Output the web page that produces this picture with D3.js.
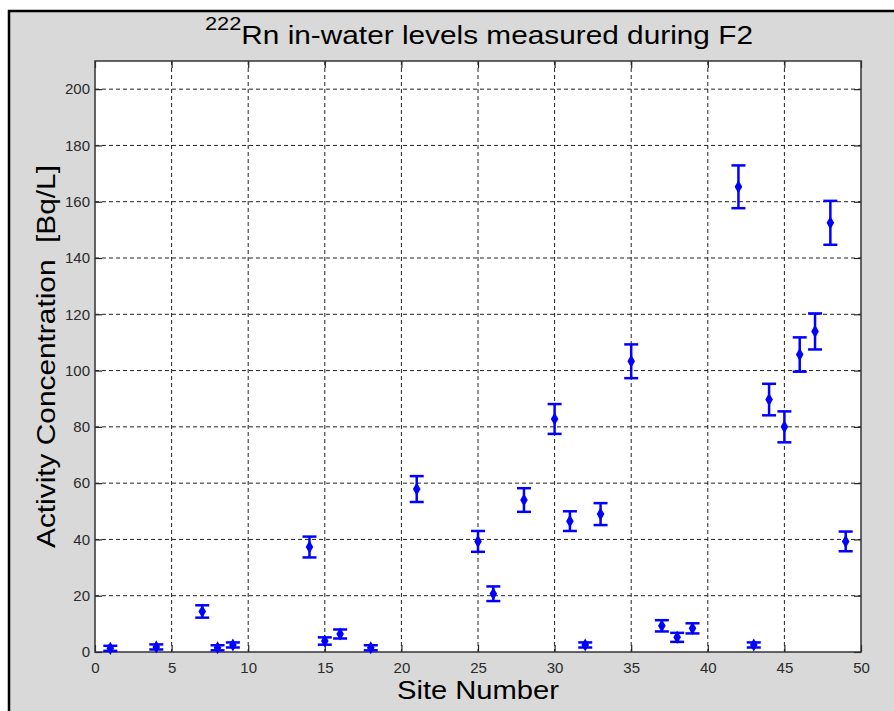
<!DOCTYPE html>
<html>
    <head>
        <title>Rn in-water levels F2</title>
        <meta charset="UTF-8">
        <script type="text/javascript" src="https://cdn.jsdelivr.net/npm/d3@7"></script>
        <style>
            body { margin: 0; background: #fff; }
            text { font-family: "Liberation Sans", Arial, Helvetica, sans-serif; }
        </style>
    </head>
    <body>
        <script type="text/javascript">
            var sites = [1, 4, 7, 8, 9, 14, 15, 16, 18, 21, 25, 26, 28, 30, 31, 32, 33, 35, 37, 38, 39, 42, 43, 44, 45, 46, 47, 48, 49];
            var activity = [1.3, 1.8, 14.4, 1.5, 2.5, 37.3, 3.9, 6.4, 1.5, 57.9, 39.3, 20.7, 54, 82.8, 46.5, 2.5, 49, 103.3, 9.3, 5.2, 8.4, 165.3, 2.5, 89.7, 80, 105.7, 113.9, 152.5, 39.3];
            var uncert = [0.9, 0.9, 2.2, 0.9, 0.9, 3.7, 1.3, 1.6, 0.9, 4.6, 3.7, 2.6, 4.2, 5.3, 3.5, 0.9, 3.9, 6.0, 2.0, 1.6, 1.8, 7.6, 0.9, 5.6, 5.5, 6.1, 6.4, 7.8, 3.5];
            var xTicks = [0, 5, 10, 15, 20, 25, 30, 35, 40, 45, 50];
            var yTicks = [0, 20, 40, 60, 80, 100, 120, 140, 160, 180, 200];

            var w = 894, h = 711;
            // note: "top" is reserved on window, so plot box uses pL/pR/pT/pB
            var pL = 95, pR = 861, pT = 61, pB = 652;

            var points = sites.map(function(s, i) {
                return {site: s, val: activity[i], err: uncert[i]};
            });

            var svg = d3.select("body").append("svg")
                    .attr("width", w)
                    .attr("height", h);

            // figure background + frame
            svg.append("rect")
                    .attr("x", 9).attr("y", 11)
                    .attr("width", w).attr("height", h)
                    .style("fill", "#d9d9d9")
                    .style("stroke", "#000")
                    .style("stroke-width", 2.5);

            var x = d3.scaleLinear().domain([0, 50]).range([pL, pR]);
            var y = d3.scaleLinear().domain([0, 210]).range([pB, pT]);

            svg.append("rect")
                    .attr("x", pL).attr("y", pT)
                    .attr("width", pR - pL).attr("height", pB - pT)
                    .style("fill", "#fff");

            // dotted grid
            svg.append("g").selectAll("line")
                    .data(xTicks.slice(1, -1))
                    .enter().append("line")
                    .attr("x1", function(d) { return x(d); })
                    .attr("x2", function(d) { return x(d); })
                    .attr("y1", pT).attr("y2", pB)
                    .style("stroke", "#222")
                    .style("stroke-width", 1)
                    .style("stroke-dasharray", "4,3");
            svg.append("g").selectAll("line")
                    .data(yTicks.slice(1))
                    .enter().append("line")
                    .attr("y1", function(d) { return y(d); })
                    .attr("y2", function(d) { return y(d); })
                    .attr("x1", pL).attr("x2", pR)
                    .style("stroke", "#222")
                    .style("stroke-width", 1)
                    .style("stroke-dasharray", "4,3");

            // axes with inward ticks
            var tickLen = 7;
            svg.append("g")
                    .attr("transform", "translate(0," + pB + ")")
                    .call(d3.axisBottom(x).tickValues(xTicks).tickSizeInner(-tickLen).tickSizeOuter(0).tickPadding(10));
            svg.append("g")
                    .attr("transform", "translate(" + pL + ",0)")
                    .call(d3.axisLeft(y).tickValues(yTicks).tickSizeInner(-tickLen).tickSizeOuter(0).tickPadding(5));
            svg.append("g")
                    .attr("transform", "translate(0," + pT + ")")
                    .call(d3.axisTop(x).tickValues(xTicks).tickSizeInner(-tickLen).tickSizeOuter(0).tickFormat(""));
            svg.append("g")
                    .attr("transform", "translate(" + pR + ",0)")
                    .call(d3.axisRight(y).tickValues(yTicks).tickSizeInner(-tickLen).tickSizeOuter(0).tickFormat(""));

            svg.selectAll(".domain").remove();
            svg.selectAll(".tick line").style("stroke", "#222").style("stroke-width", 1.2);
            svg.selectAll(".tick text")
                    .style("font-size", "15px")
                    .style("fill", "#2a2a2a");

            svg.append("rect")
                    .attr("x", pL).attr("y", pT)
                    .attr("width", pR - pL).attr("height", pB - pT)
                    .style("fill", "none")
                    .style("stroke", "#333")
                    .style("stroke-width", 1.5);

            // error bars
            var bars = svg.append("g").selectAll("g")
                    .data(points)
                    .enter().append("g")
                    .style("stroke", "#0000ff")
                    .style("stroke-width", 2.5);
            bars.append("line")
                    .attr("x1", function(d) { return x(d.site); })
                    .attr("x2", function(d) { return x(d.site); })
                    .attr("y1", function(d) { return y(d.val + d.err); })
                    .attr("y2", function(d) { return y(d.val - d.err); });
            bars.append("line")
                    .attr("x1", function(d) { return x(d.site) - 7; })
                    .attr("x2", function(d) { return x(d.site) + 7; })
                    .attr("y1", function(d) { return y(d.val + d.err); })
                    .attr("y2", function(d) { return y(d.val + d.err); });
            bars.append("line")
                    .attr("x1", function(d) { return x(d.site) - 7; })
                    .attr("x2", function(d) { return x(d.site) + 7; })
                    .attr("y1", function(d) { return y(d.val - d.err); })
                    .attr("y2", function(d) { return y(d.val - d.err); });

            svg.append("g").selectAll("path")
                    .data(points)
                    .enter().append("path")
                    .attr("d", d3.symbol().type(d3.symbolDiamond).size(50))
                    .attr("transform", function(d) { return "translate(" + x(d.site) + "," + y(d.val) + ")"; })
                    .style("fill", "#0000ff");

            // title and labels
            var title = svg.append("text")
                    .attr("x", 205).attr("y", 44)
                    .attr("textLength", 548)
                    .attr("lengthAdjust", "spacingAndGlyphs")
                    .style("font-size", "26px")
                    .style("fill", "#000");
            title.append("tspan").text("222").style("font-size", "19px").attr("dy", -14);
            title.append("tspan").text("Rn in-water levels measured during F2").attr("dy", 14);

            svg.append("text")
                    .attr("x", (pL + pR) / 2).attr("y", 699)
                    .attr("text-anchor", "middle")
                    .attr("textLength", 162)
                    .attr("lengthAdjust", "spacingAndGlyphs")
                    .style("font-size", "25px")
                    .text("Site Number");

            svg.append("text")
                    .attr("transform", "translate(55," + (pT + pB) / 2 + ") rotate(-90)")
                    .attr("text-anchor", "middle")
                    .attr("textLength", 383)
                    .attr("lengthAdjust", "spacingAndGlyphs")
                    .style("font-size", "26px")
                    .style("white-space", "pre")
                    .text("Activity Concentration  [Bq/L]");
        </script>
    </body>
</html>
